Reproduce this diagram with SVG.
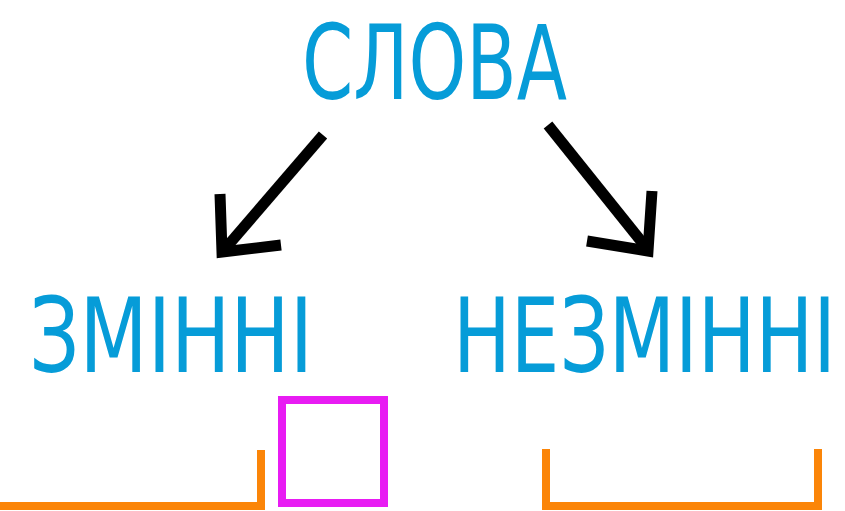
<svg xmlns="http://www.w3.org/2000/svg" width="845" height="511" viewBox="0 0 845 511">
<style>
.t{font-family:"Liberation Sans Narrow","DejaVu Sans Condensed","Liberation Sans",sans-serif;font-size:104px;fill:#069cd8;}
.a{fill:none;stroke:#000;stroke-width:11;stroke-linejoin:miter;stroke-miterlimit:10;stroke-linecap:butt;}
.o{fill:none;stroke:#fb8508;stroke-width:8;stroke-linejoin:miter;}
</style>
<rect width="845" height="511" fill="#fff"/>
<g id="slova"><text class="t" x="302" y="99" textLength="265" lengthAdjust="spacingAndGlyphs">СЛОВА</text></g>
<g id="zminni"><text class="t" x="29" y="372" textLength="284" lengthAdjust="spacingAndGlyphs">ЗМІННІ</text></g>
<g id="nezminni"><text class="t" x="453" y="372" textLength="383" lengthAdjust="spacingAndGlyphs">НЕЗМІННІ</text></g>
<g id="connectors">
<line class="a" x1="323" y1="135" x2="224" y2="250"/>
<polyline class="a" points="220,194 222,252 281,245"/>
<line class="a" x1="548" y1="125" x2="645" y2="246"/>
<polyline class="a" points="652,191 648,251 587,241"/>
</g>
<g id="box"><rect x="282" y="400" width="102" height="103" fill="none" stroke="#e81cf3" stroke-width="8"/></g>
<g id="bracket-left"><path class="o" d="M-5,506 H261 V450"/></g>
<g id="bracket-right"><path class="o" d="M546,449 V506 H818 V449"/></g>
</svg>
